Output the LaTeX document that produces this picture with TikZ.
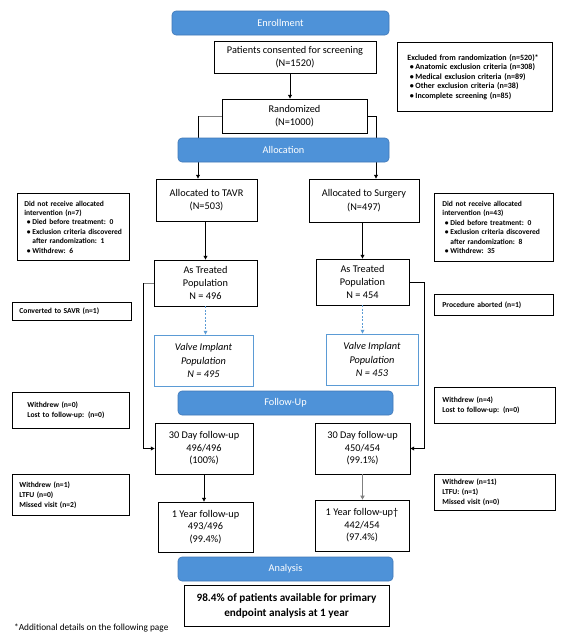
\documentclass[tikz,border=0pt]{standalone}
\usepackage{fontspec}
\setmainfont{Carlito}
\usetikzlibrary{arrows.meta}
\definecolor{barblue}{RGB}{78,146,216}
\definecolor{barline}{RGB}{64,120,184}
\definecolor{vblue}{RGB}{91,155,213}
\definecolor{cgray}{RGB}{128,128,128}
\newcommand\mainf{\fontsize{10.3}{12.5}\selectfont}
\newcommand\mainfb{\fontsize{10.3}{13.3}\selectfont}
\newcommand\sidefA{\fontsize{8}{9.5}\selectfont\bfseries}
\newcommand\sidefB{\fontsize{7.5}{9.4}\selectfont\bfseries}
\newcommand\sidefC{\fontsize{7.6}{10}\selectfont\bfseries}
\newcommand\finalf{\fontsize{11.2}{15}\selectfont\bfseries}
\newcommand\footf{\fontsize{9.3}{11}\selectfont}
\newcommand\bul{\makebox[8pt][l]{\hspace{2.5pt}\textbullet}}
\begin{document}
\begin{tikzpicture}[x=1pt,y=-1pt,
  box/.style={draw, line width=0.8pt, align=center, inner sep=0pt, font=\mainf},
  vbox/.style={draw=vblue, line width=0.9pt, align=center, inner sep=0pt, font=\mainfb\itshape},
  sidebox/.style={draw, line width=0.8pt, anchor=north west, align=left, inner ysep=0pt},
  bar/.style={rounded corners=4pt, fill=barblue, draw=barline, line width=0.6pt, text=white, font=\mainf, minimum height=24pt, inner sep=0pt},
  conn/.style={line width=0.8pt, -{Triangle[length=3.8pt,width=3.8pt]}},
  dconn/.style={vblue, line width=0.8pt, dash pattern=on 2pt off 1.5pt, -{Triangle[length=3.8pt,width=3.8pt]}},
  gconn/.style={cgray, line width=1.3pt, -{Triangle[length=4pt,width=4.2pt]}}
]
\useasboundingbox (0,0) rectangle (566,637);
\fill[white] (0,0) rectangle (566,637);

% main boxes
\node[box, minimum width=162pt, minimum height=32pt] (consent) at (295,57) {Patients consented for screening\\(N=1520)};
\node[box, minimum width=145pt, minimum height=34pt] (rand) at (294.5,116) {Randomized\\(N=1000)};
\node[box, font=\mainfb, minimum width=101pt, minimum height=42pt] (tavr) at (206.5,200) {Allocated to TAVR\\(N=503)};
\node[box, font=\mainfb, minimum width=110pt, minimum height=43pt] (surg) at (364,200.5) {Allocated to Surgery\\(N=497)};
\node[box, font=\mainfb, minimum width=103pt, minimum height=46pt] (att) at (205.5,283) {As Treated\\Population\\N = 496};
\node[box, font=\mainfb, minimum width=93pt, minimum height=46pt] (ats) at (362.5,282) {As Treated\\Population\\N = 454};
\node[vbox, minimum width=99pt, minimum height=51pt] (vit) at (203.5,360.5) {Valve Implant\\Population\\N = 495};
\node[vbox, minimum width=92pt, minimum height=51pt] (vis) at (372,359.5) {Valve Implant\\Population\\N = 453};
\node[box, minimum width=98pt, minimum height=51pt] (d30t) at (204,448.5) {30 Day follow-up\\496/496\\(100\%)};
\node[box, minimum width=95pt, minimum height=51pt] (d30s) at (362.5,448.5) {30 Day follow-up\\450/454\\(99.1\%)};
\node[box, minimum width=95pt, minimum height=50pt] (y1t) at (205.5,527) {1 Year follow-up\\493/496\\(99.4\%)};
\node[box, minimum width=94pt, minimum height=51pt] (y1s) at (362,525.5) {1 Year follow-up†\\442/454\\(97.4\%)};
\node[box, font=\finalf, minimum width=205pt, minimum height=41pt] (final) at (286.5,605.5) {98.4\% of patients available for primary\\endpoint analysis at 1 year};

% side boxes
\node[sidebox, font=\sidefA, inner xsep=10pt, text width=135pt, minimum height=69pt] (excl) at (397,42)
  {Excluded from randomization (n=520)*\\\bul Anatomic exclusion criteria (n=308)\\\bul Medical exclusion criteria (n=89)\\\bul Other exclusion criteria (n=38)\\\bul Incomplete screening (n=85)};
\node[sidebox, font=\sidefB, inner xsep=7pt, text width=98pt, minimum height=67pt] (dnrt) at (17,193)
  {Did not receive allocated\\intervention (n=7)\\\bul Died before treatment: 0\\\bul Exclusion criteria discovered\\\hspace*{8pt}after randomization: 1\\\bul Withdrew: 6};
\node[sidebox, font=\sidefB, inner xsep=8pt, text width=103pt, minimum height=68pt] (dnrs) at (434,193)
  {Did not receive allocated\\intervention (n=43)\\\bul Died before treatment: 0\\\bul Exclusion criteria discovered\\\hspace*{8pt}after randomization: 8\\\bul Withdrew: 35};
\node[sidebox, font=\sidefC, inner xsep=7pt, text width=105pt, minimum height=18pt] (conv) at (12,302) {Converted to SAVR (n=1)};
\node[sidebox, font=\sidefC, inner xsep=8pt, text width=103pt, minimum height=21pt] (abort) at (434,294) {Procedure aborted (n=1)};
\node[sidebox, font=\sidefC, inner xsep=15pt, text width=87pt, minimum height=36pt] (wdt) at (12,392) {Withdrew (n=0)\\Lost to follow-up: (n=0)};
\node[sidebox, font=\sidefC, inner xsep=8pt, text width=105pt, minimum height=36pt] (wds) at (434,387) {Withdrew (n=4)\\Lost to follow-up: (n=0)};
\node[sidebox, font=\sidefC, inner xsep=7pt, text width=103pt, minimum height=41pt] (ltt) at (12,474) {Withdrew (n=1)\\LTFU (n=0)\\Missed visit (n=2)};
\node[sidebox, font=\sidefC, inner xsep=8pt, text width=105pt, minimum height=36pt] (lts) at (434,474) {Withdrew (n=11)\\LTFU: (n=1)\\Missed visit (n=0)};

\node[anchor=west, inner sep=0pt, font=\footf] (foot) at (14,628) {*Additional details on the following page};

% connectors
\coordinate (xa) at (290,0);
\coordinate (xl) at (198,0);
\coordinate (xr) at (376,0);
\coordinate (xll) at (143,0);
\coordinate (xrr) at (424,0);
\draw[conn] (consent.south -| xa) -- (rand.north -| xa);
\draw[cgray, line width=0.8pt] (rand.west) -- (rand.west -| xl);
\draw[conn] (rand.west -| xl) -- (tavr.north -| xl);
\draw[conn] (rand.east) -| (surg.north -| xr);
\draw[conn] (tavr.south -| att.north) -- (att.north);
\draw[conn] (surg.south -| ats.north) -- (ats.north);
\draw[dconn] (att.south) -- (att.south |- vit.north);
\draw[dconn] (ats.south) -- (ats.south |- vis.north);
\draw[cgray, line width=0.8pt] (att.west) -- (att.west -| xll);
\draw[conn] (att.west -| xll) -- (xll |- d30t.west) -- (d30t.west);
\draw[conn] (ats.east) -| (xrr |- d30s.east) -- (d30s.east);
\draw[conn] (d30t.south) -- (d30t.south |- y1t.north);
\draw[gconn] (d30s.south) -- (d30s.south |- y1s.north);

% phase bars
\node[bar, minimum width=217pt] (enroll) at (280.5,23) {Enrollment};
\node[bar, minimum width=211pt] (alloc) at (283.5,150) {Allocation};
\node[bar, minimum width=215pt] (follow) at (285.5,403) {Follow-Up};
\node[bar, minimum width=215pt] (analysis) at (285.5,569) {Analysis};
\end{tikzpicture}
\end{document}
